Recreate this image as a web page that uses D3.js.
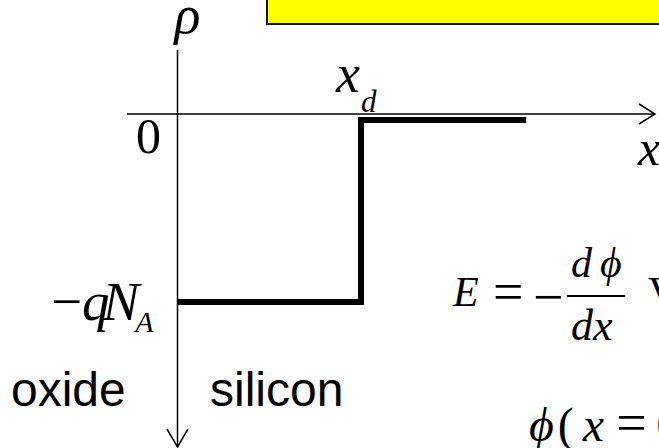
<!DOCTYPE html>
<html>
<head>
<meta charset="utf-8">
<script src="https://cdn.jsdelivr.net/npm/d3@7"></script>
<style>
  html, body { margin: 0; padding: 0; background: #fff; overflow: hidden; }
  svg { display: block; }
  .math { font-family: "Liberation Serif", "Times New Roman", serif; }
  .sans { font-family: "Liberation Sans", Arial, sans-serif; }
</style>
</head>
<body>
<script>
// Charge density in the depletion region of an MOS capacitor
// position in units of the depletion width x_d, charge in units of qN_A
const positionValues = [0, 1, 1, 1.9];
const chargeValues = [-1, -1, 0, 0];
const regionNames = ["oxide", "silicon"];
const axisLabels = ["ρ", "x"];

const W = 659, H = 448;
const svg = d3.select("body").append("svg")
  .attr("width", W).attr("height", H);

const x = d3.scaleLinear().domain([0, 1]).range([177.5, 361]);
const y = d3.scaleLinear().domain([-1, 0]).range([302, 120]);

// title banner
svg.append("rect")
  .attr("x", 267).attr("y", -4).attr("width", 420).attr("height", 28)
  .attr("fill", "#ffff00").attr("stroke", "#111").attr("stroke-width", 2);

// axes with open arrowheads
const axisY = y(0) - 6;
const ax = svg.append("g").attr("stroke", "#000").attr("stroke-width", 1.5).attr("fill", "none");
ax.append("line").attr("x1", 127).attr("x2", 655).attr("y1", axisY).attr("y2", axisY);
ax.append("polyline").attr("points", `639,${axisY - 10} 655,${axisY} 639,${axisY + 10}`);
ax.append("line").attr("x1", x(0)).attr("x2", x(0)).attr("y1", 50).attr("y2", 447);
ax.append("polyline").attr("points", `${x(0) - 10.5},429 ${x(0)},447 ${x(0) + 10.5},429`);

// charge profile
const line = d3.line()
  .x((d, i) => x(positionValues[i]))
  .y(d => y(d));
svg.append("path")
  .datum(chargeValues)
  .attr("d", line)
  .attr("fill", "none").attr("stroke", "#000")
  .attr("stroke-width", 6).attr("stroke-linejoin", "miter");

// axis labels
svg.append("text").attr("class", "math")
  .attr("x", x(0) + 10).attr("y", 33).attr("text-anchor", "middle")
  .attr("font-size", 54).attr("font-style", "italic").text(axisLabels[0]);
svg.append("text").attr("class", "math")
  .attr("x", 638).attr("y", 165)
  .attr("font-size", 50).attr("font-style", "italic").text(axisLabels[1]);

// tick labels
svg.append("text").attr("class", "math")
  .attr("x", 148.5).attr("y", 153).attr("text-anchor", "middle")
  .attr("font-size", 50).text("0");

const xd = svg.append("text").attr("class", "math")
  .attr("x", x(1) - 25).attr("y", 92).attr("font-size", 54).attr("font-style", "italic");
xd.append("tspan").text("x");
xd.append("tspan").attr("font-size", 31).attr("dy", 20).attr("dx", 1).text("d");

const qn = svg.append("text").attr("class", "math")
  .attr("x", 51).attr("y", y(-1) + 18).attr("font-size", 55);
qn.append("tspan").text("−");
qn.append("tspan").attr("font-style", "italic").text("q");
qn.append("tspan").attr("font-style", "italic").attr("dx", -7).text("N");
qn.append("tspan").attr("font-style", "italic").attr("font-size", 30).attr("dy", 12).attr("dx", -4).text("A");

// region names
svg.append("text").attr("class", "sans")
  .attr("x", 11).attr("y", 406).attr("font-size", 48).text(regionNames[0]);
svg.append("text").attr("class", "sans")
  .attr("x", 210).attr("y", 406).attr("font-size", 48).text(regionNames[1]);

// field definition
const eq = svg.append("g").attr("class", "math").attr("font-size", 42);
eq.append("text").attr("x", 453).attr("y", 306).attr("font-style", "italic").text("E");
eq.append("text").attr("x", 493).attr("y", 310).attr("font-size", 54).text("=");
eq.append("text").attr("x", 533).attr("y", 315).attr("font-size", 54).text("−");
eq.append("line").attr("x1", 567).attr("x2", 625).attr("y1", 296).attr("y2", 296)
  .attr("stroke", "#000").attr("stroke-width", 2);
const num = eq.append("text").attr("x", 571).attr("y", 277).attr("font-style", "italic");
num.append("tspan").text("d");
num.append("tspan").attr("dx", 8).text("ϕ");
eq.append("text").attr("x", 571).attr("y", 340).attr("font-size", 44).attr("font-style", "italic").text("dx");
eq.append("text").attr("x", 648).attr("y", 306).text("V");

const bc = svg.append("text").attr("class", "math")
  .attr("x", 529).attr("y", 441).attr("font-size", 48);
bc.append("tspan").attr("font-style", "italic").text("ϕ");
bc.append("tspan").attr("dx", 4).text("(");
bc.append("tspan").attr("font-style", "italic").attr("dx", 9).text("x");
bc.append("tspan").attr("dx", 12).attr("font-size", 54).text("=");
bc.append("tspan").attr("dx", 10).text("0");
</script>
</body>
</html>
